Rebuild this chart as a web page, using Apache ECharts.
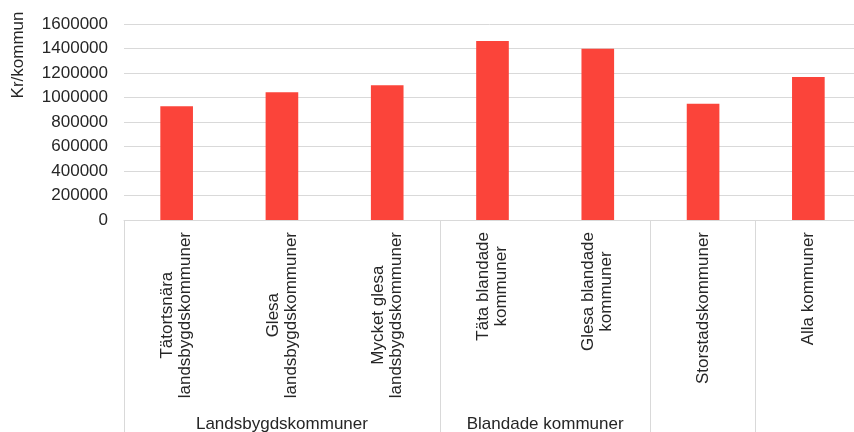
<!DOCTYPE html>
<html>
<head>
<meta charset="utf-8">
<script src="https://cdn.jsdelivr.net/npm/echarts@6/dist/echarts.min.js"></script>
<style>
  html, body { margin: 0; padding: 0; background: #ffffff; }
  #chart { width: 854px; height: 432px; }
</style>
</head>
<body>
<div id="chart"></div>
<script>
// Municipality types (line breaks mark the wrapped label lines)
const categories = [
  'Tätortsnära\nlandsbygdskommuner',
  'Glesa\nlandsbygdskommuner',
  'Mycket glesa\nlandsbygdskommuner',
  'Täta blandade\nkommuner',
  'Glesa blandade\nkommuner',
  'Storstadskommuner',
  'Alla kommuner'
];
// Kronor per municipality
const values = [928000, 1043000, 1099000, 1461000, 1397000, 950000, 1168000];
// Outer category groups and how many municipality types each spans
const groupNames = ['Landsbygdskommuner', 'Blandade kommuner', '', ''];
const groupSpans = [3, 2, 1, 1];
const yTicks = [0, 200000, 400000, 600000, 800000, 1000000, 1200000, 1400000, 1600000];
const yName = 'Kr/kommun';

// Start index and centre position of each group along the category axis
const groupStarts = [];
const groupCentres = [];
let pos = 0;
groupSpans.forEach(function (span) {
  groupStarts.push(pos);
  groupCentres.push(pos + span / 2);
  pos += span;
});

const textColor = '#262626';
const lineColor = '#d9d9d9';
const font = 'Liberation Sans, Arial, sans-serif';
const fontSize = 17;

const chart = echarts.init(document.getElementById('chart'), null, { renderer: 'canvas' });
chart.setOption({
  animation: false,
  backgroundColor: '#ffffff',
  textStyle: { fontFamily: font },
  grid: { left: 124, right: -7, top: 24, bottom: 212, outerBoundsMode: 'none', containLabel: false },
  graphic: [{
    type: 'text',
    x: 18,
    y: 55,
    rotation: Math.PI / 2,
    style: {
      text: yName,
      fill: textColor,
      font: fontSize + 'px ' + font,
      align: 'center',
      verticalAlign: 'middle'
    }
  }],
  xAxis: [{
    type: 'category',
    data: categories,
    boundaryGap: true,
    axisLine: { show: true, lineStyle: { color: lineColor, width: 1 } },
    axisTick: {
      show: true,
      length: 212,
      interval: function (index) { return groupStarts.indexOf(index) !== -1; },
      lineStyle: { color: lineColor, width: 1 }
    },
    splitLine: { show: false },
    axisLabel: {
      interval: 0,
      rotate: 90,
      margin: 12,
      color: textColor,
      fontSize: fontSize,
      fontFamily: font,
      formatter: function (v) {
        return v.split('\n').map(function (l) { return '{c|' + l + '}'; }).join('\n');
      },
      rich: {
        c: { align: 'center', fontSize: fontSize, fontFamily: font, color: textColor, lineHeight: 18 }
      }
    }
  }, {
    type: 'value',
    position: 'bottom',
    min: 0,
    max: pos,
    interval: 0.5,
    axisLine: { show: false },
    axisTick: { show: false },
    splitLine: { show: false },
    axisLabel: {
      show: true,
      margin: 196,
      color: textColor,
      fontSize: fontSize,
      fontFamily: font,
      showMinLabel: true,
      showMaxLabel: true,
      formatter: function (v) {
        const i = groupCentres.indexOf(v);
        return i === -1 ? '' : groupNames[i];
      }
    }
  }],
  yAxis: {
    type: 'value',
    min: yTicks[0],
    max: yTicks[yTicks.length - 1],
    interval: yTicks[1] - yTicks[0],
    axisLine: { show: false },
    axisTick: { show: false },
    splitLine: { show: true, lineStyle: { color: lineColor, width: 1 } },
    axisLabel: {
      margin: 16,
      color: textColor,
      fontSize: fontSize,
      fontFamily: font,
      formatter: function (v) { return String(v); }
    }
  },
  series: [{
    type: 'bar',
    xAxisIndex: 0,
    data: values,
    barWidth: '31%',
    itemStyle: { color: '#fb443a' }
  }]
});
</script>
</body>
</html>
